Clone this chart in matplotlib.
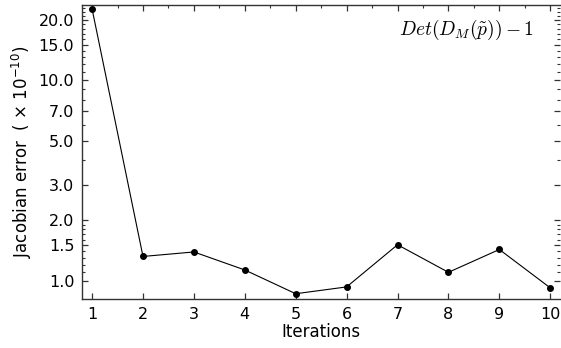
import numpy as np
import matplotlib.pyplot as plt
from matplotlib.ticker import FixedLocator, FormatStrFormatter, NullFormatter

iterations = [1, 2, 3, 4, 5, 6, 7, 8, 9, 10]
jac_error  = [22.7, 1.32, 1.39, 1.13, 0.86, 0.93, 1.51, 1.10, 1.43, 0.92]

y_major = [1.0, 1.5, 2.0, 3.0, 5.0, 7.0, 10.0, 15.0, 20.0]
y_minor = [1.1, 1.2, 1.3, 1.4, 1.6, 1.7, 1.8, 1.9, 4.0, 6.0, 8.0, 9.0,
           11, 12, 13, 14, 16, 17, 18, 19, 21, 22, 23]

fig = plt.figure(figsize=(5.61, 3.48), dpi=100)
ax = fig.add_axes([0.146, 0.141, 0.853, 0.845])

ax.plot(iterations, jac_error, color="black", lw=0.8,
        marker="o", ms=4, mfc="black", mec="black")

ax.set_yscale("log")
ax.set_xlim(0.8, 10.2)
ax.set_ylim(0.81, 23.8)

ax.yaxis.set_major_locator(FixedLocator(y_major))
ax.yaxis.set_major_formatter(FormatStrFormatter("%.1f"))
ax.yaxis.set_minor_locator(FixedLocator(y_minor))
ax.yaxis.set_minor_formatter(NullFormatter())
ax.set_xticks(iterations)
ax.set_xticks(np.arange(1.5, 10, 1.0), minor=True)

ax.tick_params(which="both", direction="in", labelsize=11.5, color="#333333")
ax.tick_params(which="major", length=4.5, width=0.9, pad=5.5)
ax.tick_params(which="minor", length=2.2, width=0.8)
ax.tick_params(axis="y", which="both", right=True)
ax.tick_params(axis="x", which="major", top=True)
ax.tick_params(axis="x", which="minor", bottom=False, top=True)

for side in ["left", "bottom", "top"]:
    ax.spines[side].set_color("#333333")
    ax.spines[side].set_linewidth(1.0)
ax.spines["right"].set_visible(False)

ax.set_xlabel("Iterations", fontsize=12, labelpad=1)
ax.set_ylabel(r"Jacobian error  ( $\times$ 10$^{-10}$)", fontsize=12, labelpad=3)

ax.text(0.945, 0.915, r"$Det(D_M(\tilde{p}))-1$", transform=ax.transAxes,
        ha="right", va="center", fontsize=14, math_fontfamily="cm")

fig.savefig("out.png", dpi=100)
